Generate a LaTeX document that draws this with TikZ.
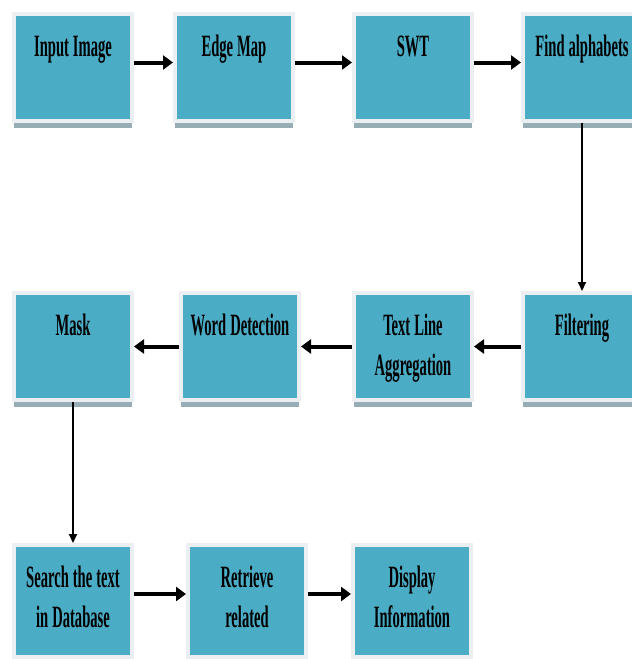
\documentclass[tikz,border=0pt]{standalone}
\usepackage{fontspec}
\setmainfont{Liberation Serif}[FakeStretch=0.47]
\usetikzlibrary{arrows.meta,shadows}
\definecolor{cellblue}{RGB}{75,172,198}
\definecolor{rimgray}{RGB}{236,239,241}
\definecolor{shadegray}{RGB}{150,173,181}
\begin{document}
\begin{tikzpicture}[x=1pt,y=-1pt,
  stepbox/.style={rectangle, anchor=north, fill=cellblue, draw=rimgray, line width=4pt,
    inner sep=0pt, text width=118pt, align=center, text height=42pt, text depth=65pt,
    font=\fontsize{31}{40}\selectfont\bfseries,
    execute at begin node={\spaceskip=4pt\relax},
    drop shadow={shadow xshift=0pt, shadow yshift=-7pt, fill=shadegray, opacity=1}},
  flow/.style={line width=4pt, -{Triangle[length=10pt,width=14pt]}},
  downflow/.style={line width=2pt, -{Triangle[length=9pt,width=8pt]}}]
\useasboundingbox (0,0) rectangle (632,659);
\node[stepbox] (input) at (73,12) {Input Image};
\node[stepbox] (edge) at (234,12) {Edge Map};
\node[stepbox] (swt) at (413,12) {SWT};
\node[stepbox] (alpha) at (582,12) {Find alphabets};
\node[stepbox] (mask) at (73,291) {Mask};
\node[stepbox] (word) at (240,291) {Word Detection};
\node[stepbox] (line) at (413,291) {Text Line\\Aggregation};
\node[stepbox] (filter) at (582,291) {Filtering};
\node[stepbox, text depth=70pt] (search) at (73,543) {Search the text\\in Database};
\node[stepbox, text depth=70pt] (retrieve) at (247,543) {Retrieve\\related};
\node[stepbox, text depth=70pt] (display) at (412,543) {Display\\Information};
\draw[flow] ([yshift=5pt]input.east) -- ([yshift=5pt]edge.west);
\draw[flow] ([yshift=5pt]edge.east) -- ([yshift=5pt]swt.west);
\draw[flow] ([yshift=5pt]swt.east) -- ([yshift=5pt]alpha.west);
\draw[downflow] (alpha.south) -- (filter.north);
\draw[flow] (filter.west) -- (line.east);
\draw[flow] (line.west) -- (word.east);
\draw[flow] (word.west) -- (mask.east);
\draw[downflow] (mask.south) -- (search.north);
\draw[flow] ([yshift=7pt]search.east) -- ([yshift=7pt]retrieve.west);
\draw[flow] ([yshift=7pt]retrieve.east) -- ([yshift=7pt]display.west);
\end{tikzpicture}
\end{document}
